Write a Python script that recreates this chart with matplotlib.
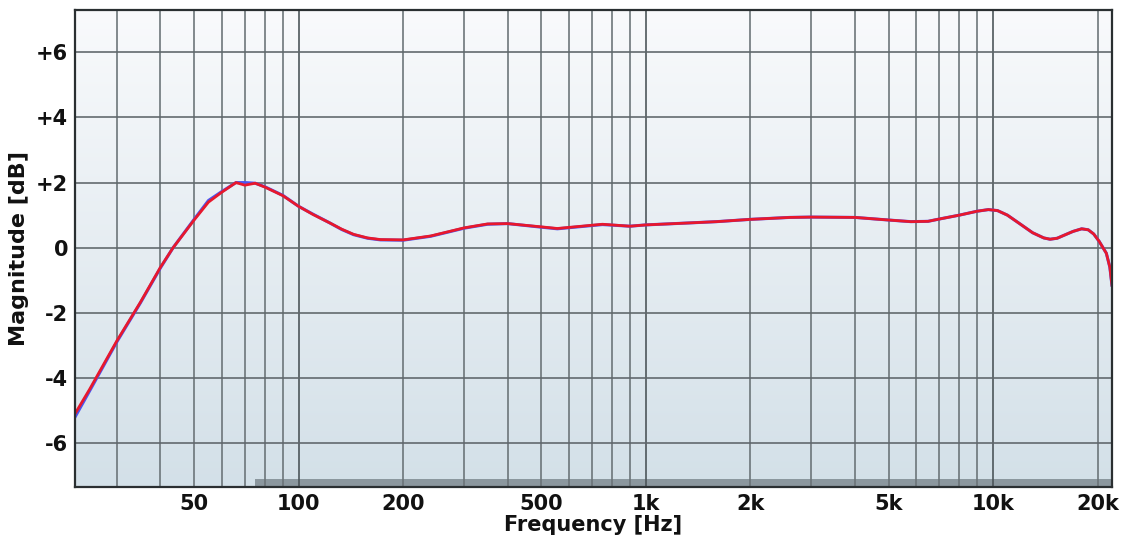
import numpy as np
import matplotlib.pyplot as plt
from matplotlib.colors import LinearSegmentedColormap

# frequency response readings (Hz, dB)
freq = [22.7, 25, 30, 35, 40, 43.5, 50, 55, 60, 66, 70, 75, 80, 90, 100,
        110, 123, 133, 144, 158, 172, 200, 240, 300, 350, 400, 500, 556,
        700, 750, 900, 1000, 1330, 1600, 2000, 2600, 3000, 4000, 5000, 5800,
        6500, 7000, 8000, 9000, 9700, 10300, 11000, 12000, 13000, 14000,
        14600, 15300, 16000, 17000, 18000, 18800, 19500, 20200, 21200,
        21700, 22000]
mag_red = [-5.1, -4.35, -2.85, -1.68, -0.6, 0.0, 0.85, 1.4, 1.7, 2.0, 1.92,
           1.98, 1.86, 1.6, 1.27, 1.02, 0.76, 0.57, 0.41, 0.3, 0.25, 0.24,
           0.36, 0.61, 0.73, 0.74, 0.64, 0.59, 0.69, 0.72, 0.66, 0.7, 0.76,
           0.8, 0.87, 0.93, 0.94, 0.93, 0.85, 0.8, 0.81, 0.88, 1.0, 1.12,
           1.17, 1.14, 1.0, 0.72, 0.46, 0.3, 0.26, 0.29, 0.38, 0.5, 0.58,
           0.55, 0.42, 0.2, -0.17, -0.6, -1.15]
mag_blue = [-5.2, -4.4, -2.88, -1.7, -0.62, 0.0, 0.87, 1.45, 1.72, 2.0, 2.0,
            1.98, 1.87, 1.61, 1.27, 1.03, 0.76, 0.56, 0.4, 0.29, 0.24, 0.23,
            0.35, 0.6, 0.72, 0.74, 0.63, 0.58, 0.68, 0.71, 0.66, 0.7, 0.76,
            0.8, 0.87, 0.93, 0.94, 0.93, 0.85, 0.8, 0.81, 0.88, 1.0, 1.12,
            1.17, 1.14, 1.0, 0.72, 0.46, 0.3, 0.26, 0.29, 0.38, 0.5, 0.58,
            0.55, 0.42, 0.2, -0.17, -0.6, -1.15]

xtick_vals = [50, 100, 200, 500, 1000, 2000, 5000, 10000, 20000]
xtick_labels = ['50', '100', '200', '500', '1k', '2k', '5k', '10k', '20k']
ytick_vals = [-6, -4, -2, 0, 2, 4, 6]
ytick_labels = ['-6', '-4', '-2', '0', '+2', '+4', '+6']
grid_freqs = [30, 40, 50, 60, 70, 80, 90, 100, 200, 300, 400, 500, 600, 700,
              800, 900, 1000, 2000, 3000, 4000, 5000, 6000, 7000, 8000, 9000,
              10000, 20000]

xmin, xmax = 22.7, 22000
ymin, ymax = -7.35, 7.3

fig = plt.figure(figsize=(11.30, 5.41), dpi=100, facecolor='white')
ax = fig.add_axes([0.0664, 0.0998, 0.9176, 0.8817])
ax.set_xscale('log')
ax.set_xlim(xmin, xmax)
ax.set_ylim(ymin, ymax)

# gradient background
cmap = LinearSegmentedColormap.from_list('bg', ['#d3e0e8', '#f9fafc'])
grad = np.linspace(0, 1, 256).reshape(-1, 1)
ax.imshow(grad, cmap=cmap, aspect='auto', origin='lower',
          extent=[0, 1, 0, 1], transform=ax.transAxes, zorder=0)

# grey range bar at the bottom
ax.fill_between([75, xmax], ymin, ymin + 0.25, color='#8b979e', zorder=1, lw=0)

# grid
for f in grid_freqs:
    c = '#4a5357' if f in (100, 1000, 10000) else '#6a7377'
    ax.axvline(f, color=c, lw=1.3, alpha=0.9, zorder=2)
for v in ytick_vals:
    ax.axhline(v, color='#5f676b', lw=1.3, alpha=0.9, zorder=2)

ax.plot(freq, mag_blue, color='#4a55f0', lw=2.2, zorder=3,
        solid_joinstyle='round')
ax.plot(freq, mag_red, color='#e8182c', lw=2.0, zorder=4,
        solid_joinstyle='round')

ax.set_xticks(xtick_vals)
ax.set_xticklabels(xtick_labels)
ax.set_xticks([], minor=True)
ax.set_yticks(ytick_vals)
ax.set_yticklabels(ytick_labels)
ax.tick_params(length=0, labelsize=15, pad=5, colors='#111111')
for lab in ax.get_xticklabels() + ax.get_yticklabels():
    lab.set_fontweight('bold')

ax.set_xlabel('Frequency [Hz]', fontsize=15, fontweight='bold', labelpad=1,
              color='#111111')
ax.set_ylabel('Magnitude [dB]', fontsize=16, fontweight='bold', labelpad=5,
              color='#111111')

for s in ax.spines.values():
    s.set_color('#2a2f31')
    s.set_linewidth(1.6)
    s.set_zorder(5)

fig.savefig('out.png', dpi=100, facecolor='white')
